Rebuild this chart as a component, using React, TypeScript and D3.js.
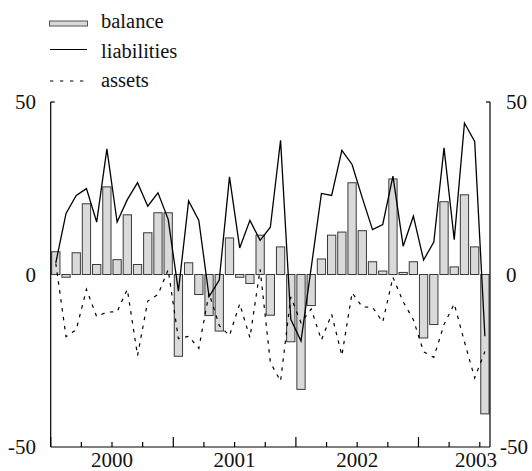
import React from "react";
import * as d3 from "d3";

const years = ["2000", "2001", "2002", "2003"];
const months = d3.range(43).map((i) => `${2000 + Math.floor(i / 12)}-${String((i % 12) + 1).padStart(2, "0")}`);

const balance = [
  6.6, -0.8, 6.3, 20.5, 2.9, 25.4, 4.3, 17.3, 2.9, 12.1, 17.9, 17.9,
  -23.7, 3.4, -5.8, -11.9, -16.4, 10.6, -0.8, -2.6, 11.4, -11.8, 8.0, -19.5,
  -33.3, -9.0, 4.5, 11.4, 12.3, 26.6, 12.7, 3.7, 1.0, 27.7, 0.6, 3.7,
  -18.4, -14.5, 21.1, 2.2, 23.1, 8.0, -40.4,
];
const liabilities = [
  3.4, 17.7, 22.9, 24.9, 15.2, 36.4, 15.2, 21.7, 26.6, 19.8, 23.7, 16.0,
  -4.8, 21.3, 15.7, -6.4, -1.6, 28.3, 7.7, 15.7, 9.9, 13.7, 38.9, -13.0,
  -19.3, 2.0, 23.5, 22.9, 36.0, 31.9, 22.2, 13.0, 14.5, 28.5, 8.2, 16.9,
  4.2, 9.4, 36.7, 10.1, 43.9, 38.6, -17.9,
];
const assets = [
  3.2, -18.0, -16.0, -4.3, -12.2, -10.9, -10.8, -4.3, -23.5, -7.7, -5.8, 1.4,
  -18.6, -17.9, -21.4, -5.4, -14.8, -17.7, -8.5, -18.3, 1.5, -25.5, -30.9, -6.5,
  -14.0, -10.0, -19.0, -11.5, -23.5, -5.3, -9.4, -9.5, -13.8, -0.8, -7.9, -13.1,
  -22.4, -24.0, -14.5, -8.5, -19.5, -30.0, -22.3,
];
const yTicks = [50, 0, -50];
const legendLabels = ["balance", "liabilities", "assets"];

const W = 532;
const H = 471;
const L = 50.7;
const R = 490;
const T = 102;
const B = 447;
const FONT = '"Liberation Serif"';

export default function App() {
  const x = d3.scaleLinear().domain([0, months.length]).range([L, R]);
  const y = d3.scaleLinear().domain([-50, 50]).range([B, T]);
  const step = x(1) - x(0);
  const bw = step * 0.81;
  const cx = (i: number) => x(i + 0.5);

  const line = d3
    .line<number>()
    .x((_, i) => cx(i))
    .y((d) => y(d));

  const quarterTicks = d3.range(0, months.length, 3);
  const ts = { fontFamily: FONT };

  return (
    <svg width={W} height={H} style={{ position: "absolute", left: 0, top: 0, background: "#fff" }}>
      {/* legend */}
      <g>
        <rect x={49.5} y={21} width={38} height={5} fill="#d9d9d9" stroke="#555" strokeWidth={1} />
        <line x1={50} x2={87} y1={49.5} y2={49.5} stroke="#000" strokeWidth={1.2} />
        <line x1={50} x2={87} y1={81} y2={81} stroke="#000" strokeWidth={1.1} strokeDasharray="3.3,6.7" />
        {legendLabels.map((t, i) => (
          <text key={t} x={101} y={28 + i * 29.5} fontSize={20.5} fill="#111" style={ts}>
            {t}
          </text>
        ))}
      </g>

      {/* bars */}
      {balance.map((v, i) => (
        <rect
          key={months[i]}
          x={cx(i) - bw / 2}
          y={Math.min(y(v), y(0))}
          width={bw}
          height={Math.abs(y(v) - y(0))}
          fill="#dadada"
          stroke="#3a3a3a"
          strokeWidth={1}
        />
      ))}

      {/* lines */}
      <path d={line(assets) || ""} fill="none" stroke="#000" strokeWidth={1.2} strokeDasharray="3.5,5.5" />
      <path d={line(liabilities) || ""} fill="none" stroke="#000" strokeWidth={1.3} />

      {/* axes */}
      <g stroke="#000" strokeWidth={1.2} fill="none">
        <line x1={L} x2={L} y1={T} y2={B} />
        <line x1={R} x2={R} y1={T} y2={B} />
        <line x1={L} x2={R} y1={B} y2={B} />
        <line x1={L} x2={L + 4} y1={T} y2={T} />
        <line x1={R - 4} x2={R} y1={T} y2={T} />
        {quarterTicks.map((i) => (
          <line key={i} x1={x(i)} x2={x(i)} y1={B} y2={B - (i % 12 === 0 ? 10 : 5)} />
        ))}
      </g>

      {/* y labels */}
      {yTicks.map((v) => (
        <text key={"l" + v} x={36} y={y(v) + 7} fontSize={21} textAnchor="end" fill="#111" style={ts}>
          {v}
        </text>
      ))}
      {yTicks.map((v) => (
        <text key={"r" + v} x={v < 0 ? 500 : 506} y={y(v) + 7} fontSize={21} textAnchor="start" fill="#111" style={ts}>
          {v}
        </text>
      ))}

      {/* year labels */}
      {years.map((yr, k) => (
        <text key={yr} x={Math.min(x(k * 12 + 6), 476)} y={466.5} fontSize={21} textAnchor="middle" fill="#111" style={ts}>
          {yr}
        </text>
      ))}
    </svg>
  );
}
